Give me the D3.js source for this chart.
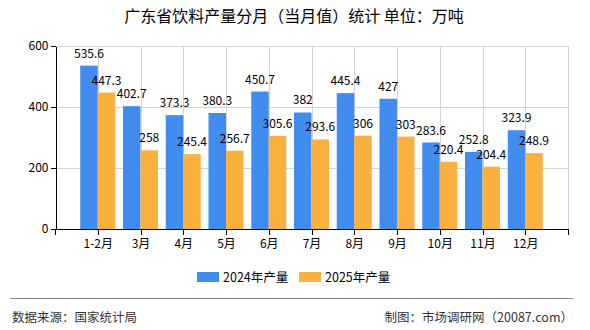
<!doctype html>
<html lang="zh">
<head>
<meta charset="utf-8">
<title>广东省饮料产量分月</title>
<script src="https://cdn.jsdelivr.net/npm/d3@7/dist/d3.min.js"></script>
<style>
  body { margin: 0; background: #fff; }
  text { font-family: "Noto Sans CJK SC", "Noto Sans", sans-serif; fill: #000; }
  .grid line { stroke: #d4d4d4; stroke-width: 1; shape-rendering: crispEdges; }
  .axis path, .axis line { stroke: #000; shape-rendering: crispEdges; }
</style>
</head>
<body>
<div id="viz"></div>
<script>
// DATA
var months = ["1-2月", "3月", "4月", "5月", "6月", "7月", "8月", "9月", "10月", "11月", "12月"];
var output2024 = [535.6, 402.7, 373.3, 380.3, 450.7, 382, 445.4, 427, 283.6, 252.8, 323.9];
var output2025 = [447.3, 258, 245.4, 256.7, 305.6, 293.6, 306, 303, 220.4, 204.4, 248.9];
var yTicks = [0, 200, 400, 600];
var seriesNames = ["2024年产量", "2025年产量"];

(function(d3) {
  var w = 590, h = 330;
  var left = 55, right = 568, top = 46, bottom = 229;
  var colors = ["#418cef", "#fbb13f"];
  var barW = 17.5;

  var svg = d3.select("#viz").append("svg")
    .attr("width", w)
    .attr("height", h);

  // SCALES
  var x = d3.scalePoint().domain(months).range([left, right]).padding(1);
  var y = d3.scaleLinear().domain([0, 600]).range([bottom, top]);

  // title
  svg.append("text")
    .attr("x", 294).attr("y", 22)
    .attr("text-anchor", "middle")
    .style("font-size", "16px")
    .text("广东省饮料产量分月（当月值）统计 单位：万吨");

  // grid
  var grid = svg.append("g").attr("class", "grid");
  grid.selectAll("line.h")
    .data(yTicks.filter(function(d) { return d > 0; }))
    .enter().append("line")
    .attr("x1", left).attr("x2", right)
    .attr("y1", function(d) { return Math.round(y(d)) + 0.5; })
    .attr("y2", function(d) { return Math.round(y(d)) + 0.5; });
  grid.selectAll("line.v")
    .data(months.map(function(m) { return x(m); }).concat([right]))
    .enter().append("line")
    .attr("x1", function(d) { return Math.round(d) + 0.5; })
    .attr("x2", function(d) { return Math.round(d) + 0.5; })
    .attr("y1", top).attr("y2", bottom);

  // bars
  var series = [output2024, output2025];
  series.forEach(function(vals, s) {
    svg.append("g").selectAll("rect")
      .data(vals)
      .enter().append("rect")
      .attr("x", function(d, i) { return x(months[i]) - barW + s * barW; })
      .attr("y", function(d) { return y(d); })
      .attr("width", barW)
      .attr("height", function(d) { return bottom - y(d); })
      .attr("fill", colors[s]);
  });

  // value labels
  series.forEach(function(vals, s) {
    svg.append("g").selectAll("text")
      .data(vals)
      .enter().append("text")
      .attr("x", function(d, i) { return x(months[i]) - barW / 2 + s * barW; })
      .attr("y", function(d) { return y(d) - 8; })
      .attr("text-anchor", "middle")
      .style("font-size", "12px")
      .text(function(d) { return d; });
  });

  // axes
  var xAxis = d3.axisBottom(x).tickSize(5).tickSizeOuter(0);
  var gx = svg.append("g").attr("class", "axis")
    .attr("transform", "translate(0," + (bottom + 0.5) + ")")
    .call(xAxis);
  gx.select(".domain").attr("d", "M" + left + ",0H" + (right + 0.5));
  gx.selectAll(".tick text").style("font-size", "12px").attr("dy", "0.9em");
  [left, right].forEach(function(px) {
    gx.append("line").attr("x1", px + 0.5).attr("x2", px + 0.5).attr("y1", 0).attr("y2", 5).attr("stroke", "#000");
  });

  var yAxis = d3.axisLeft(y).tickValues(yTicks).tickSize(5).tickSizeOuter(0);
  var gy = svg.append("g").attr("class", "axis")
    .attr("transform", "translate(" + (left + 0.5) + ",0)")
    .call(yAxis);
  gy.selectAll(".tick text").style("font-size", "12px").attr("x", -7);

  // legend
  var legendX = [197, 299];
  seriesNames.forEach(function(name, s) {
    svg.append("rect")
      .attr("x", legendX[s]).attr("y", 272)
      .attr("width", 22).attr("height", 10)
      .attr("fill", colors[s]);
    svg.append("text")
      .attr("x", legendX[s] + 26).attr("y", 281.5)
      .style("font-size", "12.5px")
      .text(name);
  });

  // footer
  svg.append("line")
    .attr("x1", 10).attr("x2", 573)
    .attr("y1", 298.5).attr("y2", 298.5)
    .attr("stroke", "#888").attr("stroke-width", 1);
  svg.append("text")
    .attr("x", 12).attr("y", 322)
    .style("font-size", "12.5px")
    .style("fill", "#333")
    .text("数据来源：国家统计局");
  svg.append("text")
    .attr("x", 573).attr("y", 322)
    .attr("text-anchor", "end")
    .style("font-size", "12.5px")
    .style("fill", "#333")
    .text("制图：市场调研网（20087.com）");
})(d3);
</script>
</body>
</html>
